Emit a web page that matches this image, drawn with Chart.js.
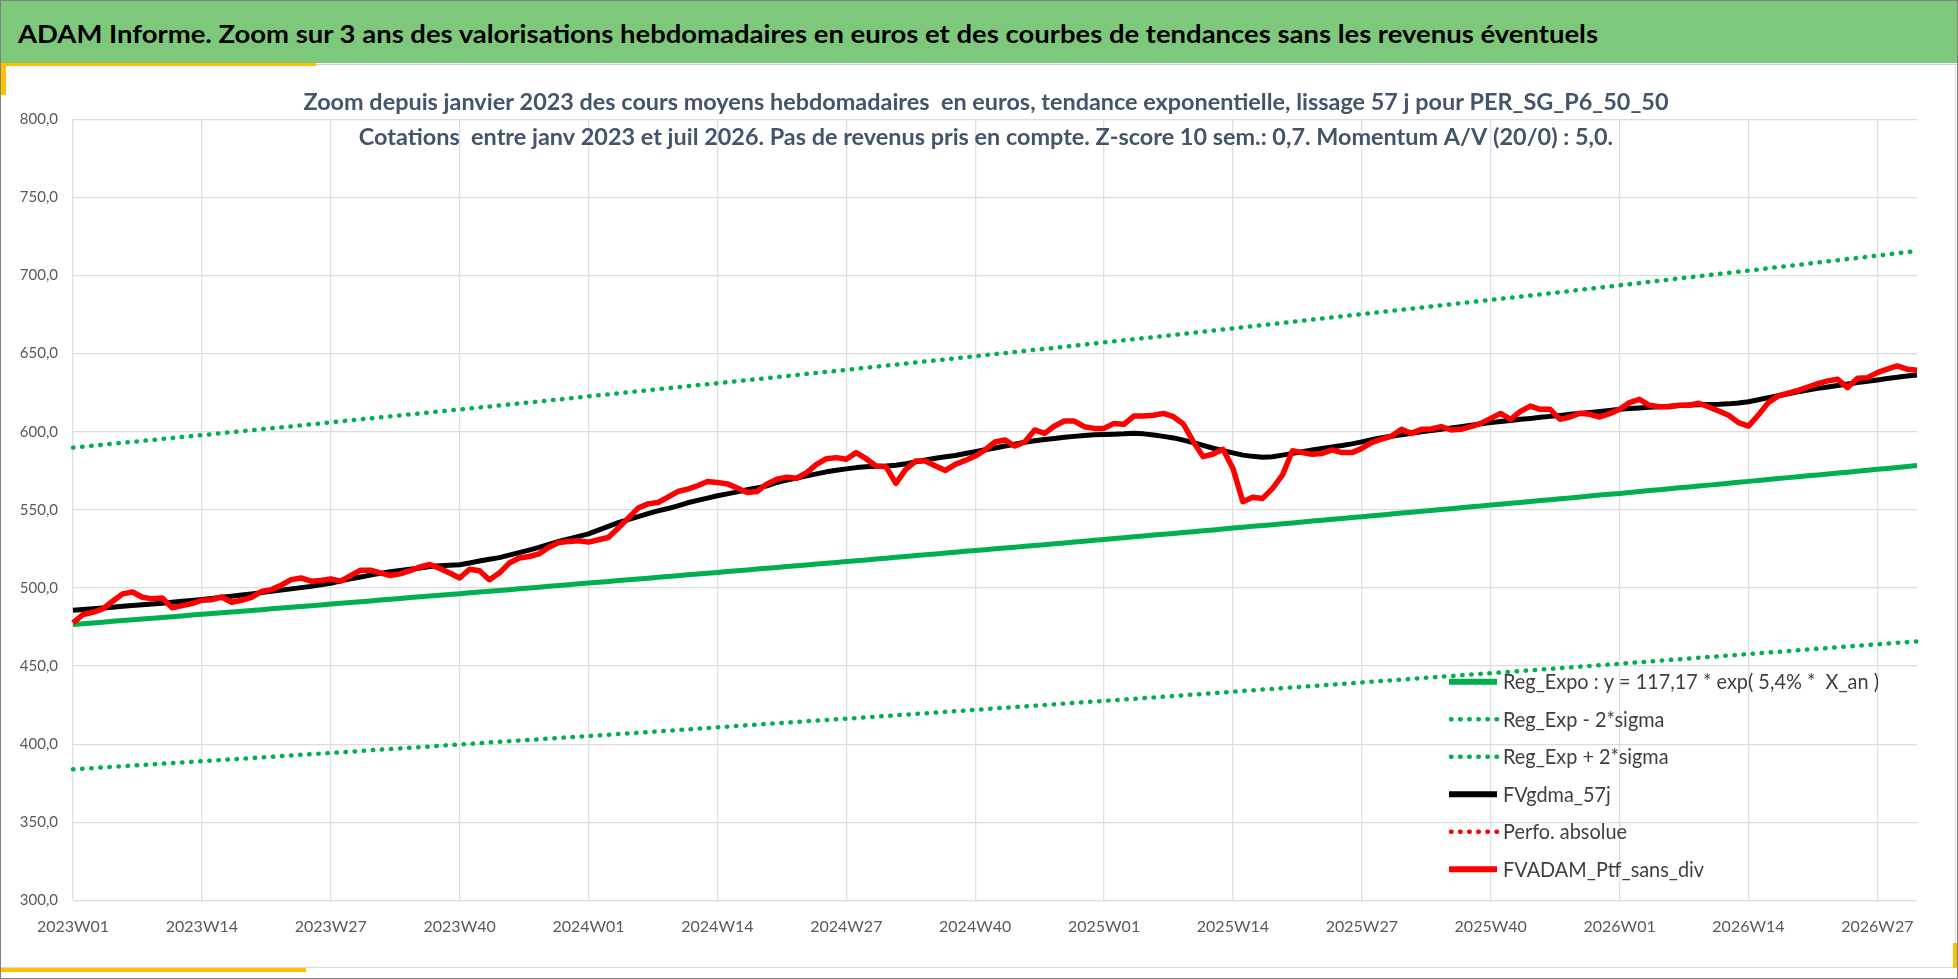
<!DOCTYPE html>
<html>
<head>
<meta charset="utf-8">
<title>ADAM Informe</title>
<script src="https://cdn.jsdelivr.net/npm/chart.js@4.4.0/dist/chart.umd.min.js"></script>
<style>
  html, body { margin: 0; padding: 0; background: #fff; }
  #page { position: relative; width: 1958px; height: 979px; overflow: hidden; background: #fff; font-family: Lato, "Open Sans", sans-serif; }
  #outer { position: absolute; left: 0; top: 0; width: 1956px; height: 977px; border: 1px solid #808080; }
  #banner { position: absolute; left: 1px; top: 1px; width: 1956px; height: 62px; background: #7ec87b; }
  #bannerText { position: absolute; left: 17px; top: 21px; line-height: 1; white-space: nowrap; font-weight: bold; font-size: 24px; color: #000; transform-origin: left top; }
  #underGrey { position: absolute; left: 1px; top: 64px; width: 1956px; height: 1px; background: #d0d0d0; }
  #underYellow { position: absolute; left: 1px; top: 63px; width: 315px; height: 3px; background: #ffc000; }
  #leftYellow { position: absolute; left: 1px; top: 66px; width: 5px; height: 29px; background: #ffc000; }
  #frame { position: absolute; left: 1px; top: 66px; width: 1954px; height: 901px; border-right: 1px solid #d9d9d9; border-bottom: 1px solid #d9d9d9; }
  #bottomYellow { position: absolute; left: 1px; top: 968px; width: 305px; height: 4px; background: #ffc000; }
  #rightYellow { position: absolute; left: 1953px; top: 943px; width: 4px; height: 25px; background: #ffc000; }
  #chartBox { position: absolute; left: 0; top: 66px; width: 1958px; height: 900px; }
</style>
</head>
<body>
<div id="page">
  <div id="outer"></div>
  <div id="banner"><span id="bannerText">ADAM Informe. Zoom sur 3 ans des valorisations hebdomadaires en euros et des courbes de tendances sans les revenus éventuels</span></div>
  <div id="underGrey"></div>
  <div id="underYellow"></div>
  <div id="frame"></div>
  <div id="leftYellow"></div>
  <div id="bottomYellow"></div>
  <div id="rightYellow"></div>
  <div id="chartBox"><canvas id="chart"></canvas></div>
</div>
<script>
const weeks = [
  "2023W01","2023W02","2023W03","2023W04","2023W05","2023W06","2023W07","2023W08","2023W09","2023W10","2023W11","2023W12","2023W13",
  "2023W14","2023W15","2023W16","2023W17","2023W18","2023W19","2023W20","2023W21","2023W22","2023W23","2023W24","2023W25","2023W26",
  "2023W27","2023W28","2023W29","2023W30","2023W31","2023W32","2023W33","2023W34","2023W35","2023W36","2023W37","2023W38","2023W39",
  "2023W40","2023W41","2023W42","2023W43","2023W44","2023W45","2023W46","2023W47","2023W48","2023W49","2023W50","2023W51","2023W52",
  "2024W01","2024W02","2024W03","2024W04","2024W05","2024W06","2024W07","2024W08","2024W09","2024W10","2024W11","2024W12","2024W13",
  "2024W14","2024W15","2024W16","2024W17","2024W18","2024W19","2024W20","2024W21","2024W22","2024W23","2024W24","2024W25","2024W26",
  "2024W27","2024W28","2024W29","2024W30","2024W31","2024W32","2024W33","2024W34","2024W35","2024W36","2024W37","2024W38","2024W39",
  "2024W40","2024W41","2024W42","2024W43","2024W44","2024W45","2024W46","2024W47","2024W48","2024W49","2024W50","2024W51","2024W52",
  "2025W01","2025W02","2025W03","2025W04","2025W05","2025W06","2025W07","2025W08","2025W09","2025W10","2025W11","2025W12","2025W13",
  "2025W14","2025W15","2025W16","2025W17","2025W18","2025W19","2025W20","2025W21","2025W22","2025W23","2025W24","2025W25","2025W26",
  "2025W27","2025W28","2025W29","2025W30","2025W31","2025W32","2025W33","2025W34","2025W35","2025W36","2025W37","2025W38","2025W39",
  "2025W40","2025W41","2025W42","2025W43","2025W44","2025W45","2025W46","2025W47","2025W48","2025W49","2025W50","2025W51","2025W52",
  "2026W01","2026W02","2026W03","2026W04","2026W05","2026W06","2026W07","2026W08","2026W09","2026W10","2026W11","2026W12","2026W13",
  "2026W14","2026W15","2026W16","2026W17","2026W18","2026W19","2026W20","2026W21","2026W22","2026W23","2026W24","2026W25","2026W26",
  "2026W27","2026W28","2026W29","2026W30","2026W31"
];

const tickLabels = ["2023W01","2023W14","2023W27","2023W40","2024W01","2024W14","2024W27","2024W40",
  "2025W01","2025W14","2025W27","2025W40","2026W01","2026W14","2026W27"];

const yTicks = [300, 350, 400, 450, 500, 550, 600, 650, 700, 750, 800];

const regExpo = [
  476.6, 477.1, 477.6, 478.1, 478.6, 479.1, 479.6, 480.1, 480.6, 481.1, 481.6, 482.1, 482.6,
  483.1, 483.6, 484.1, 484.6, 485.1, 485.6, 486.1, 486.6, 487.1, 487.6, 488.1, 488.6, 489.1,
  489.7, 490.2, 490.7, 491.2, 491.7, 492.2, 492.8, 493.3, 493.8, 494.3, 494.8, 495.3, 495.8,
  496.3, 496.9, 497.4, 497.9, 498.4, 498.9, 499.4, 500.0, 500.5, 501.0, 501.5, 502.0, 502.6,
  503.1, 503.6, 504.1, 504.7, 505.2, 505.7, 506.2, 506.8, 507.3, 507.8, 508.4, 508.9, 509.4,
  509.9, 510.5, 511.0, 511.5, 512.1, 512.6, 513.1, 513.7, 514.2, 514.7, 515.3, 515.8, 516.3,
  516.9, 517.4, 517.9, 518.5, 519.0, 519.6, 520.1, 520.7, 521.2, 521.7, 522.3, 522.8, 523.4,
  523.9, 524.4, 525.0, 525.5, 526.1, 526.6, 527.2, 527.7, 528.3, 528.8, 529.4, 529.9, 530.5,
  531.0, 531.6, 532.1, 532.7, 533.3, 533.8, 534.4, 534.9, 535.5, 536.0, 536.6, 537.1, 537.7,
  538.3, 538.8, 539.4, 539.9, 540.5, 541.1, 541.6, 542.2, 542.8, 543.3, 543.9, 544.5, 545.0,
  545.6, 546.2, 546.7, 547.3, 547.9, 548.4, 549.0, 549.6, 550.2, 550.7, 551.3, 551.9, 552.4,
  553.0, 553.6, 554.2, 554.7, 555.3, 555.9, 556.5, 557.1, 557.6, 558.2, 558.8, 559.4, 560.0,
  560.5, 561.1, 561.7, 562.3, 562.9, 563.5, 564.1, 564.6, 565.2, 565.8, 566.4, 567.0, 567.6,
  568.2, 568.8, 569.4, 570.0, 570.6, 571.2, 571.8, 572.3, 572.9, 573.5, 574.1, 574.7, 575.3,
  575.9, 576.5, 577.1, 577.7, 578.3
];

const regMinus2s = [
  383.9, 384.3, 384.7, 385.1, 385.5, 385.9, 386.3, 386.7, 387.1, 387.5, 387.9, 388.3, 388.7,
  389.1, 389.5, 389.9, 390.3, 390.7, 391.1, 391.5, 391.9, 392.4, 392.8, 393.2, 393.6, 394.0,
  394.4, 394.8, 395.2, 395.6, 396.1, 396.5, 396.9, 397.3, 397.7, 398.1, 398.5, 399.0, 399.4,
  399.8, 400.2, 400.6, 401.1, 401.5, 401.9, 402.3, 402.7, 403.1, 403.6, 404.0, 404.4, 404.8,
  405.2, 405.6, 406.0, 406.5, 406.9, 407.3, 407.7, 408.2, 408.6, 409.0, 409.4, 409.9, 410.3,
  410.8, 411.2, 411.7, 412.1, 412.5, 413.0, 413.4, 413.8, 414.2, 414.7, 415.1, 415.5, 416.0,
  416.3, 416.7, 417.2, 417.6, 418.0, 418.5, 418.9, 419.4, 419.8, 420.2, 420.7, 421.1, 421.5,
  422.0, 422.4, 422.9, 423.3, 423.8, 424.2, 424.6, 425.1, 425.5, 426.0, 426.4, 426.9, 427.3,
  427.7, 428.1, 428.6, 429.0, 429.5, 429.9, 430.4, 430.8, 431.3, 431.7, 432.2, 432.6, 433.1,
  433.6, 434.1, 434.5, 435.0, 435.4, 435.9, 436.3, 436.8, 437.2, 437.7, 438.1, 438.6, 439.0,
  439.5, 440.0, 440.4, 440.9, 441.3, 441.8, 442.3, 442.7, 443.2, 443.6, 444.1, 444.6, 445.0,
  445.4, 445.9, 446.3, 446.8, 447.3, 447.7, 448.2, 448.7, 449.1, 449.6, 450.1, 450.5, 451.0,
  451.5, 452.0, 452.4, 452.9, 453.4, 453.9, 454.3, 454.8, 455.3, 455.8, 456.2, 456.7, 457.2,
  457.7, 458.2, 458.7, 459.1, 459.6, 460.1, 460.6, 461.1, 461.5, 462.0, 462.5, 463.0, 463.4,
  463.9, 464.4, 464.9, 465.3, 465.8
];

const regPlus2s = [
  589.8, 590.4, 591.0, 591.7, 592.3, 592.9, 593.5, 594.1, 594.7, 595.4, 596.0, 596.6, 597.2,
  597.8, 598.4, 599.1, 599.7, 600.3, 600.9, 601.6, 602.2, 602.8, 603.4, 604.1, 604.7, 605.3,
  606.0, 606.6, 607.3, 607.9, 608.5, 609.2, 609.8, 610.4, 611.1, 611.7, 612.4, 613.0, 613.6,
  614.2, 614.8, 615.5, 616.1, 616.8, 617.4, 618.1, 618.7, 619.3, 620.0, 620.6, 621.3, 621.9,
  622.6, 623.3, 623.9, 624.6, 625.2, 625.9, 626.5, 627.2, 627.8, 628.5, 629.1, 629.8, 630.4,
  631.0, 631.7, 632.3, 633.0, 633.6, 634.3, 635.0, 635.6, 636.3, 637.0, 637.6, 638.3, 638.9,
  639.6, 640.3, 640.9, 641.6, 642.3, 642.9, 643.6, 644.3, 645.0, 645.6, 646.3, 647.0, 647.6,
  648.3, 649.0, 649.7, 650.3, 651.0, 651.7, 652.4, 653.0, 653.7, 654.4, 655.1, 655.8, 656.4,
  657.1, 657.8, 658.5, 659.2, 659.9, 660.5, 661.2, 661.9, 662.6, 663.3, 664.0, 664.7, 665.4,
  666.1, 666.8, 667.5, 668.2, 668.9, 669.6, 670.3, 671.0, 671.7, 672.4, 673.1, 673.8, 674.5,
  675.2, 675.9, 676.6, 677.3, 678.0, 678.7, 679.4, 680.1, 680.9, 681.6, 682.3, 683.0, 683.7,
  684.3, 685.0, 685.7, 686.5, 687.2, 687.9, 688.6, 689.3, 690.0, 690.8, 691.5, 692.2, 692.9,
  693.7, 694.4, 695.1, 695.9, 696.6, 697.3, 698.1, 698.8, 699.5, 700.2, 701.0, 701.7, 702.4,
  703.1, 703.8, 704.6, 705.3, 706.0, 706.8, 707.5, 708.3, 709.0, 709.7, 710.5, 711.2, 711.9,
  712.7, 713.4, 714.2, 714.9, 715.6
];

const fvgdma57j = [
  485.7, 486.2, 486.7, 487.2, 487.7, 488.2, 488.7, 489.2, 489.7, 490.2,
  490.8, 491.4, 492.0, 492.6, 493.3, 494.0, 494.7, 495.4, 496.2, 497.0,
  497.8, 498.6, 499.4, 500.2, 501.0, 502.0, 503.0, 504.6, 505.8, 507.0,
  508.2, 509.3, 510.3, 511.2, 512.0, 512.8, 513.7, 514.2, 514.5, 514.8,
  516.0, 517.2, 518.3, 519.4, 521.0, 522.6, 524.2, 525.9, 527.8, 529.8,
  531.4, 533.0, 534.6, 537.0, 539.4, 541.8, 543.7, 545.6, 547.5, 549.3,
  550.8, 552.5, 554.5, 556.0, 557.5, 559.0, 560.2, 561.5, 562.8, 564.0,
  565.3, 567.5, 569.0, 570.3, 571.7, 573.0, 574.3, 575.3, 576.2, 577.0,
  577.5, 577.8, 578.0, 578.5, 579.5, 580.7, 581.9, 583.0, 584.0, 584.8,
  586.0, 587.2, 588.4, 589.6, 590.8, 592.0, 593.2, 594.2, 595.0, 595.7,
  596.4, 597.0, 597.6, 598.0, 598.2, 598.4, 598.6, 599.0, 598.6, 597.9,
  597.0, 596.0, 594.6, 593.0, 591.2, 589.4, 587.8, 586.4, 585.0, 584.2,
  583.7, 584.0, 585.0, 586.1, 587.2, 588.3, 589.3, 590.2, 591.1, 592.2,
  593.5, 594.8, 596.2, 597.1, 598.0, 599.0, 599.9, 600.7, 601.5, 602.3,
  603.2, 604.1, 605.0, 605.8, 606.5, 607.2, 607.9, 608.5, 609.2, 609.8,
  610.4, 611.1, 611.7, 612.3, 612.9, 613.6, 614.3, 614.8, 615.2, 615.6,
  616.0, 616.3, 616.7, 617.0, 617.2, 617.4, 617.5, 617.8, 618.3, 619.2,
  620.4, 621.8, 623.0, 624.3, 625.6, 626.7, 627.7, 628.6, 629.6, 630.5,
  631.5, 632.3, 633.1, 634.0, 634.8, 635.6, 636.3
];

// no visible values for this one, only its legend entry
const perfoAbsolue = [];

const fvadamPtf = [
  477.6, 483.0, 484.4, 486.6, 491.5, 496.2, 497.4, 494.0, 493.0, 493.6,
  487.2, 488.7, 490.0, 492.1, 492.5, 494.2, 490.8, 492.1, 494.0, 497.7,
  498.9, 501.7, 505.3, 506.4, 504.3, 504.7, 505.8, 504.3, 507.9, 511.3,
  511.3, 509.6, 507.9, 509.0, 511.1, 513.4, 515.0, 512.5, 509.5, 506.3,
  512.0, 511.0, 505.2, 509.5, 515.9, 519.1, 520.1, 521.8, 526.1, 529.1,
  529.7, 530.2, 529.3, 530.8, 532.3, 538.3, 544.7, 551.1, 553.8, 554.7,
  558.1, 561.7, 563.2, 565.4, 568.1, 567.5, 566.6, 563.9, 561.1, 561.7,
  566.6, 569.6, 570.9, 570.2, 573.8, 579.1, 582.7, 583.4, 582.3, 586.6,
  582.7, 578.0, 577.6, 566.9, 575.9, 581.2, 581.2, 578.0, 575.2, 579.1,
  581.6, 584.4, 588.3, 593.4, 594.7, 590.8, 593.4, 601.1, 598.9, 603.6,
  606.8, 606.8, 603.2, 602.1, 602.1, 605.3, 604.7, 610.0, 610.0, 610.5,
  611.7, 609.6, 604.9, 593.6, 584.0, 585.7, 588.7, 576.5, 555.2, 558.0,
  557.3, 563.7, 572.3, 587.8, 586.6, 585.5, 586.1, 588.3, 586.6, 586.6,
  589.3, 593.0, 595.3, 597.2, 601.5, 598.9, 601.5, 601.7, 603.2, 601.1,
  601.5, 603.2, 605.3, 608.5, 611.7, 607.9, 613.0, 616.4, 614.3, 614.3,
  607.9, 609.4, 611.8, 611.1, 609.4, 611.5, 614.3, 618.6, 620.7, 616.9,
  616.0, 616.0, 616.9, 616.9, 618.2, 615.8, 613.2, 610.5, 605.8, 603.6,
  610.7, 618.6, 622.9, 624.6, 626.5, 628.6, 630.8, 632.5, 633.5, 628.2,
  634.2, 634.6, 637.8, 640.0, 642.1, 640.0, 639.3
];

const seriesNames = [
  "Reg_Expo : y = 117,17 * exp( 5,4% *  X_an )",
  "Reg_Exp - 2*sigma",
  "Reg_Exp + 2*sigma",
  "FVgdma_57j",
  "Perfo. absolue",
  "FVADAM_Ptf_sans_div"
];

const subtitleLines = [
  "Zoom depuis janvier 2023 des cours moyens hebdomadaires  en euros, tendance exponentielle, lissage 57 j pour PER_SG_P6_50_50",
  "Cotations  entre janv 2023 et juil 2026. Pas de revenus pris en compte. Z-score 10 sem.: 0,7. Momentum A/V (20/0) : 5,0."
];

const GREEN = "#00b050";
const DOTS = [0.5, 8.6];

// banner title, squeezed to the width of the original narrow font
const bannerText = document.getElementById("bannerText");
bannerText.style.transform = "scaleX(" + (1580 / bannerText.getBoundingClientRect().width) + ")";

function fitText(ctx, text, x, y, sx, align) {
  ctx.save();
  ctx.translate(x, y);
  ctx.scale(sx, 1);
  ctx.textAlign = align;
  ctx.fillText(text, 0, 0);
  ctx.restore();
}

// subtitle over the plot + legend inside the plot, as in the excel sheet
const overlayPlugin = {
  id: "overlay",
  afterDraw(chart) {
    const ctx = chart.ctx;
    ctx.save();
    ctx.fillStyle = "#44546a";
    ctx.font = "bold 22px Lato";
    ctx.textBaseline = "alphabetic";
    const sx = 1365 / ctx.measureText(subtitleLines[0]).width;
    fitText(ctx, subtitleLines[0], 986, 43.5, sx, "center");
    fitText(ctx, subtitleLines[1], 986, 79, sx, "center");

    ctx.font = "20.5px Lato";
    ctx.fillStyle = "#404040";
    const lx = 376 / ctx.measureText(seriesNames[0]).width;
    chart.data.datasets.forEach((ds, i) => {
      const y = 615.7 + i * 37.5;
      ctx.save();
      ctx.strokeStyle = ds.borderColor;
      ctx.lineWidth = ds.borderDash.length ? 4.5 : 6;
      ctx.lineCap = ds.borderDash.length ? "round" : "butt";
      ctx.setLineDash(ds.borderDash);
      ctx.beginPath();
      ctx.moveTo(ds.borderDash.length ? 1451 : 1449, y);
      ctx.lineTo(1497, y);
      ctx.stroke();
      ctx.restore();
      fitText(ctx, ds.label, 1503, y + 7.3, lx, "left");
    });
    ctx.restore();
  }
};

function lineSet(label, data, color, width, dash, order) {
  return {
    label, data,
    borderColor: color,
    backgroundColor: color,
    borderWidth: width,
    borderDash: dash,
    borderCapStyle: dash.length ? "round" : "butt",
    borderJoinStyle: "round",
    pointRadius: 0,
    pointHoverRadius: 0,
    tension: 0,
    fill: false,
    order
  };
}

new Chart(document.getElementById("chart"), {
  type: "line",
  data: {
    labels: weeks,
    datasets: [
      lineSet(seriesNames[0], regExpo, GREEN, 5, [], 3),
      lineSet(seriesNames[1], regMinus2s, GREEN, 4.5, DOTS, 4),
      lineSet(seriesNames[2], regPlus2s, GREEN, 4.5, DOTS, 5),
      lineSet(seriesNames[3], fvgdma57j, "#000000", 5, [], 1),
      lineSet(seriesNames[4], perfoAbsolue, "#ff0000", 4.5, DOTS, 2),
      lineSet(seriesNames[5], fvadamPtf, "#ff0000", 5.5, [], 0)
    ]
  },
  options: {
    responsive: true,
    maintainAspectRatio: false,
    animation: false,
    events: [],
    layout: { padding: { left: 0, right: 41, top: 53.2, bottom: 20.6 } },
    plugins: {
      legend: { display: false },
      title: { display: false },
      tooltip: { enabled: false }
    },
    scales: {
      x: {
        offset: false,
        afterFit: s => { s.height = 45; },
        grid: {
          drawTicks: false,
          lineWidth: 1.3,
          color: c => tickLabels.includes(weeks[c.index]) ? "#dcdfe5" : "rgba(0,0,0,0)"
        },
        border: { display: false },
        ticks: {
          autoSkip: false,
          maxRotation: 0,
          minRotation: 0,
          padding: 17,
          color: "#595959",
          font: { family: "Lato", size: 16 },
          callback: (v, i) => tickLabels.includes(weeks[i]) ? weeks[i] : ""
        }
      },
      y: {
        min: yTicks[0],
        max: yTicks[yTicks.length - 1],
        afterFit: s => { s.width = 73; },
        afterBuildTicks: s => { s.ticks = yTicks.map(v => ({ value: v })); },
        grid: { drawTicks: false, color: "#dcdcdc", lineWidth: 1.3 },
        border: { display: false },
        ticks: {
          padding: 15,
          color: "#595959",
          font: { family: "Lato", size: 15 },
          callback: v => v.toFixed(1).replace(".", ",")
        }
      }
    }
  },
  plugins: [overlayPlugin]
});
</script>
</body>
</html>
